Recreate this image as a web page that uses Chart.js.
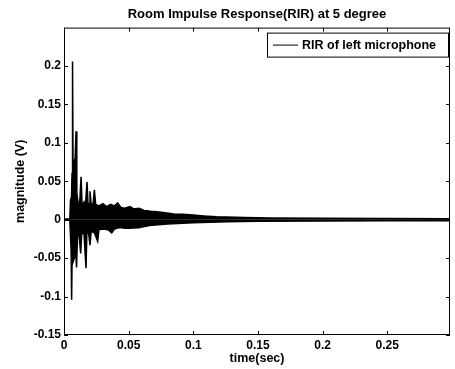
<!DOCTYPE html>
<html>
<head>
<meta charset="utf-8">
<script src="https://cdn.jsdelivr.net/npm/chart.js@4.4.0/dist/chart.umd.min.js"></script>
<style>
    html, body { margin: 0; padding: 0; background: #fff; }
    #wrap { width: 455px; height: 369px; }
</style>
</head>
<body>
<div id="wrap"><canvas id="rirChart" width="455" height="369"></canvas></div>
<script>
// Upper envelope of the impulse response (time in sec, magnitude in V)
const upperTime = [0, 0.0045, 0.0050, 0.0058, 0.0062, 0.0066, 0.0070, 0.0078, 0.0086, 0.0093,
    0.0099, 0.0110, 0.0122, 0.0132, 0.0140, 0.0155, 0.0165, 0.0178, 0.0186, 0.0194,
    0.0201, 0.0210, 0.0225, 0.0235, 0.0245, 0.0270, 0.0300, 0.0330, 0.0360, 0.0390,
    0.0415, 0.0440, 0.0470, 0.0510, 0.0540, 0.0580, 0.0620, 0.0670, 0.0720, 0.0780,
    0.0850, 0.0920, 0.1000, 0.1080, 0.1180, 0.1260, 0.1400, 0.1600, 0.2000, 0.2500, 0.2985];
const upperMag = [0.0008, 0.0008, 0.025, 0.03, 0.06, 0.206, 0.07, 0.075, 0.08, 0.115,
    0.035, 0.02, 0.024, 0.056, 0.018, 0.023, 0.017, 0.049, 0.019, 0.021,
    0.037, 0.02, 0.021, 0.039, 0.02, 0.018, 0.021, 0.017, 0.02, 0.018,
    0.022, 0.016, 0.015, 0.017, 0.014, 0.015, 0.012, 0.011, 0.0105, 0.009,
    0.0075, 0.007, 0.006, 0.005, 0.004, 0.0035, 0.003, 0.0024, 0.0018, 0.0015, 0.0013];

// Lower envelope
const lowerTime = [0, 0.0045, 0.0050, 0.0055, 0.0059, 0.0063, 0.0070, 0.0080, 0.0090, 0.0097,
    0.0104, 0.0115, 0.0129, 0.0137, 0.0155, 0.0170, 0.0177, 0.0190, 0.0201, 0.0210,
    0.0235, 0.0260, 0.0270, 0.0300, 0.0340, 0.0369, 0.0390, 0.0430, 0.0470, 0.0500,
    0.0580, 0.0660, 0.0800, 0.1000, 0.1260, 0.1500, 0.2000, 0.2500, 0.2985];
const lowerMag = [-0.0008, -0.0008, -0.02, -0.04, -0.104, -0.045, -0.055, -0.05, -0.04, -0.062,
    -0.022, -0.018, -0.044, -0.017, -0.019, -0.063, -0.017, -0.017, -0.033, -0.015,
    -0.017, -0.028, -0.013, -0.012, -0.013, -0.017, -0.012, -0.01, -0.011, -0.011,
    -0.0105, -0.0075, -0.0055, -0.0038, -0.0026, -0.002, -0.0016, -0.0014, -0.0013];

const xTicks = [0, 0.05, 0.1, 0.15, 0.2, 0.25];
const yTicks = [-0.15, -0.1, -0.05, 0, 0.05, 0.1, 0.15, 0.2];

const FONT = '"Liberation Sans", Arial, sans-serif';

// MATLAB style box, inward ticks and boxed legend
const matlabBox = {
    id: 'matlabBox',
    afterDraw(chart) {
        const { ctx, chartArea: a, scales: { x, y } } = chart;
        ctx.save();
        ctx.strokeStyle = '#000';
        ctx.lineWidth = 1;
        ctx.strokeRect(a.left + 0.5, a.top + 0.5, a.width - 1, a.height - 1);
        ctx.beginPath();
        xTicks.forEach(v => {
            const px = Math.round(x.getPixelForValue(v)) + 0.5;
            ctx.moveTo(px, a.bottom); ctx.lineTo(px, a.bottom - 4);
            ctx.moveTo(px, a.top); ctx.lineTo(px, a.top + 4);
        });
        yTicks.forEach(v => {
            const py = Math.round(y.getPixelForValue(v)) + 0.5;
            ctx.moveTo(a.left, py); ctx.lineTo(a.left + 4, py);
            ctx.moveTo(a.right, py); ctx.lineTo(a.right - 4, py);
        });
        ctx.stroke();

        // legend
        const ds = chart.data.datasets[0];
        const bx = a.right - 183, by = a.top + 5, bw = 181, bh = 24;
        ctx.fillStyle = '#fff';
        ctx.fillRect(bx, by, bw, bh);
        ctx.strokeRect(bx + 0.5, by + 0.5, bw, bh);
        const cy = by + bh / 2 + 0.5;
        ctx.beginPath();
        ctx.moveTo(bx + 6, cy); ctx.lineTo(bx + 31, cy);
        ctx.strokeStyle = ds.borderColor;
        ctx.stroke();
        ctx.fillStyle = '#000';
        ctx.font = 'bold 12.5px ' + FONT;
        ctx.textBaseline = 'middle';
        ctx.fillText(ds.label, bx + 35, cy);
        ctx.restore();
    }
};

new Chart(document.getElementById('rirChart').getContext('2d'), {
    type: 'line',
    data: {
        datasets: [{
            label: 'RIR of left microphone',
            data: upperTime.map((t, i) => ({ x: t, y: upperMag[i] })),
            borderColor: '#000',
            backgroundColor: '#000',
            borderWidth: 1.5,
            pointRadius: 0,
            fill: 'origin',
            tension: 0
        }, {
            label: 'lower',
            data: lowerTime.map((t, i) => ({ x: t, y: lowerMag[i] })),
            borderColor: '#000',
            backgroundColor: '#000',
            borderWidth: 1.5,
            pointRadius: 0,
            fill: 'origin',
            tension: 0
        }]
    },
    options: {
        responsive: false,
        animation: false,
        layout: { padding: { top: 0, right: 5, bottom: 0, left: 0 } },
        plugins: {
            legend: { display: false },
            tooltip: { enabled: false },
            title: {
                display: true,
                text: 'Room Impulse Response(RIR) at 5 degree',
                fullSize: false,
                color: '#000',
                font: { family: FONT, size: 13, weight: 'bold', lineHeight: 1.2 },
                padding: { top: 7, bottom: 5 }
            }
        },
        scales: {
            x: {
                type: 'linear',
                min: 0,
                max: 0.2985,
                grid: { display: false, drawTicks: false },
                border: { display: false },
                afterBuildTicks: s => { s.ticks = xTicks.map(v => ({ value: v })); },
                afterFit: s => { s.height = 34; },
                ticks: {
                    color: '#000',
                    padding: 3,
                    maxRotation: 0,
                    font: { family: FONT, size: 12, weight: 'bold' },
                    callback: v => String(Number(v.toFixed(2)))
                },
                title: {
                    display: true,
                    text: 'time(sec)',
                    color: '#000',
                    font: { family: FONT, size: 12.5, weight: 'bold', lineHeight: 1.2 },
                    padding: { top: 0, bottom: 3 }
                }
            },
            y: {
                type: 'linear',
                min: -0.15,
                max: 0.25,
                grid: { display: false, drawTicks: false },
                border: { display: false },
                afterBuildTicks: s => { s.ticks = yTicks.map(v => ({ value: v })); },
                afterFit: s => { s.width = 64; },
                ticks: {
                    color: '#000',
                    padding: 3,
                    font: { family: FONT, size: 12, weight: 'bold' },
                    callback: v => String(Number(v.toFixed(2)))
                },
                title: {
                    display: true,
                    text: 'magnitude (V)',
                    color: '#000',
                    font: { family: FONT, size: 12.5, weight: 'bold', lineHeight: 1.2 },
                    padding: { top: 13, bottom: 0 }
                }
            }
        }
    },
    plugins: [matlabBox]
});
</script>
</body>
</html>
